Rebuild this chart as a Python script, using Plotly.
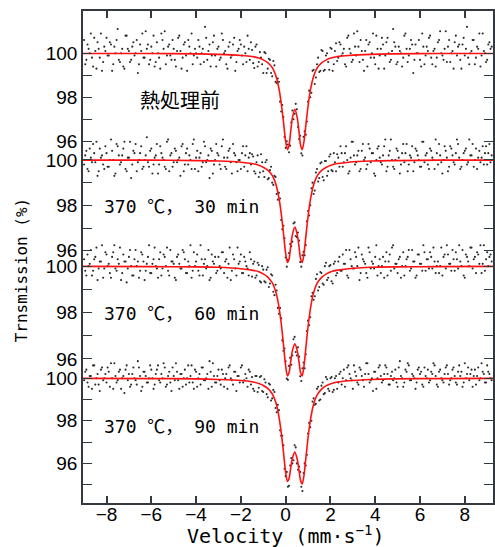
import plotly.graph_objects as go

# ---------------- data ----------------
VELOCITY = [
    -9.0, -8.9, -8.8, -8.7, -8.6, -8.5, -8.4, -8.3, -8.2, -8.1,
    -8.0, -7.9, -7.8, -7.7, -7.6, -7.5, -7.4, -7.3, -7.2, -7.1,
    -7.0, -6.9, -6.8, -6.7, -6.6, -6.5, -6.4, -6.3, -6.2, -6.1,
    -6.0, -5.9, -5.8, -5.7, -5.6, -5.5, -5.4, -5.3, -5.2, -5.1,
    -5.0, -4.9, -4.8, -4.7, -4.6, -4.5, -4.4, -4.3, -4.2, -4.1,
    -4.0, -3.9, -3.8, -3.7, -3.6, -3.5, -3.4, -3.3, -3.2, -3.1,
    -3.0, -2.9, -2.8, -2.7, -2.6, -2.5, -2.4, -2.3, -2.2, -2.1,
    -2.0, -1.9, -1.8, -1.7, -1.6, -1.5, -1.4, -1.3, -1.2, -1.1,
    -1.0, -0.9, -0.8, -0.7, -0.6, -0.5, -0.4, -0.3, -0.2, -0.1,
    0.0, 0.1, 0.2, 0.3, 0.4, 0.5, 0.6, 0.7, 0.8, 0.9,
    1.0, 1.1, 1.2, 1.3, 1.4, 1.5, 1.6, 1.7, 1.8, 1.9,
    2.0, 2.1, 2.2, 2.3, 2.4, 2.5, 2.6, 2.7, 2.8, 2.9,
    3.0, 3.1, 3.2, 3.3, 3.4, 3.5, 3.6, 3.7, 3.8, 3.9,
    4.0, 4.1, 4.2, 4.3, 4.4, 4.5, 4.6, 4.7, 4.8, 4.9,
    5.0, 5.1, 5.2, 5.3, 5.4, 5.5, 5.6, 5.7, 5.8, 5.9,
    6.0, 6.1, 6.2, 6.3, 6.4, 6.5, 6.6, 6.7, 6.8, 6.9,
    7.0, 7.1, 7.2, 7.3, 7.4, 7.5, 7.6, 7.7, 7.8, 7.9,
    8.0, 8.1, 8.2, 8.3, 8.4, 8.5, 8.6, 8.7, 8.8, 8.9,
    9.0, 9.1, 9.2,
]
VELOCITY_B = [
    -8.95, -8.85, -8.75, -8.65, -8.55, -8.45, -8.35, -8.25, -8.15, -8.05,
    -7.95, -7.85, -7.75, -7.65, -7.55, -7.45, -7.35, -7.25, -7.15, -7.05,
    -6.95, -6.85, -6.75, -6.65, -6.55, -6.45, -6.35, -6.25, -6.15, -6.05,
    -5.95, -5.85, -5.75, -5.65, -5.55, -5.45, -5.35, -5.25, -5.15, -5.05,
    -4.95, -4.85, -4.75, -4.65, -4.55, -4.45, -4.35, -4.25, -4.15, -4.05,
    -3.95, -3.85, -3.75, -3.65, -3.55, -3.45, -3.35, -3.25, -3.15, -3.05,
    -2.95, -2.85, -2.75, -2.65, -2.55, -2.45, -2.35, -2.25, -2.15, -2.05,
    -1.95, -1.85, -1.75, -1.65, -1.55, -1.45, -1.35, -1.25, -1.15, -1.05,
    -0.95, -0.85, -0.75, -0.65, -0.55, -0.45, -0.35, -0.25, -0.15, -0.05,
    0.05, 0.15, 0.25, 0.35, 0.45, 0.55, 0.65, 0.75, 0.85, 0.95,
    1.05, 1.15, 1.25, 1.35, 1.45, 1.55, 1.65, 1.75, 1.85, 1.95,
    2.05, 2.15, 2.25, 2.35, 2.45, 2.55, 2.65, 2.75, 2.85, 2.95,
    3.05, 3.15, 3.25, 3.35, 3.45, 3.55, 3.65, 3.75, 3.85, 3.95,
    4.05, 4.15, 4.25, 4.35, 4.45, 4.55, 4.65, 4.75, 4.85, 4.95,
    5.05, 5.15, 5.25, 5.35, 5.45, 5.55, 5.65, 5.75, 5.85, 5.95,
    6.05, 6.15, 6.25, 6.35, 6.45, 6.55, 6.65, 6.75, 6.85, 6.95,
    7.05, 7.15, 7.25, 7.35, 7.45, 7.55, 7.65, 7.75, 7.85, 7.95,
    8.05, 8.15, 8.25, 8.35, 8.45, 8.55, 8.65, 8.75, 8.85, 8.95,
    9.05, 9.15,
]

OBS_1 = [
    100.6, 99.7, 100.2, 100.9, 99.4, 100.1, 100.5, 99.8, 99.2, 100.3,
    100.7, 99.9, 100.4, 99.5, 100.0, 101.1, 99.6, 100.2, 99.3, 100.8,
    100.1, 99.7, 100.5, 100.0, 99.1, 100.4, 100.9, 99.8, 100.2, 99.5,
    100.3, 100.8, 99.6, 100.0, 99.3, 100.6, 101.0, 99.9, 100.4, 99.7,
    100.2, 99.4, 100.7, 100.1, 99.8, 100.5, 99.2, 100.3, 100.9, 99.9,
    100.0, 100.6, 99.5, 100.2, 101.2, 99.7, 100.4, 99.9, 100.8, 99.4,
    100.3, 99.8, 100.6, 100.1, 99.3, 100.5, 99.9, 100.7, 99.6, 100.2,
    100.4, 99.5, 100.0, 100.8, 99.7,
    100.15, 99.33, 100.4, 99.6, 99.8, 99.1, 100.0, 99.3, 99.7, 98.95,
    99.45, 98.65, 98.7, 97.35, 97.1, 95.7, 95.85, 95.8, 97.4, 97.25,
    97.45, 96.1, 95.45, 96.2, 96.3, 97.8, 98.0, 99.2, 98.6, 99.5,
    99.15, 100.15, 99.2, 99.9, 99.6, 100.25, 99.2, 100.1, 99.65,
    100.5, 99.9, 100.2, 99.4, 100.8, 100.0, 99.7, 100.3, 101.0, 99.6,
    100.1, 99.2, 100.6, 100.4, 99.8, 100.9, 99.5, 100.2, 99.9, 100.7,
    99.3, 100.5, 100.0, 99.7, 101.1, 100.3, 99.6, 100.1, 99.4, 100.8,
    100.2, 99.9, 100.6, 99.1, 100.4, 100.0, 99.7, 100.9, 99.5, 100.3,
    100.7, 99.8, 100.1, 99.4, 100.5, 101.0, 99.9, 100.2, 99.6, 100.6,
    100.0, 99.3, 100.8, 100.3, 99.7, 100.4, 99.9, 101.2, 99.5, 100.1,
    100.6, 99.8, 100.2, 99.4, 100.9, 100.0, 99.7, 100.5, 100.3,
]
OBS_1B = [
    99.5, 100.4, 100.0, 99.8, 100.7, 99.3, 100.2, 100.9, 99.6, 100.1,
    99.9, 100.5, 99.2, 100.3, 100.6, 99.7, 100.0, 99.4, 100.8, 100.2,
    99.6, 100.3, 99.9, 100.6, 99.5, 100.1, 99.8, 101.0, 100.4, 99.7,
    100.0, 99.4, 100.5, 99.8, 100.9, 100.2, 99.5, 100.3, 99.9, 100.6,
    99.7, 100.1, 100.8, 99.3, 100.4, 99.9, 100.6, 100.0, 99.5, 100.2,
    99.8, 100.3, 100.0, 99.6, 100.7, 100.1, 99.4, 100.5, 99.9, 100.2,
    99.7, 100.9, 100.0, 99.5, 100.3, 99.8, 100.4, 99.2, 100.1, 100.6,
    99.9, 100.3, 99.6, 100.2, 100.5,
    99.55, 100.3, 99.4, 100.05, 99.5, 100.05, 99.1, 99.75, 99.1, 99.65,
    98.7, 98.85, 97.8, 97.65, 96.2, 96.0, 95.5, 96.85, 97.0, 97.7,
    96.65, 96.25, 95.35, 96.45, 96.9, 98.3, 98.2, 99.25, 98.9, 99.8,
    99.2, 100.1, 99.25, 100.0, 99.25, 100.2, 99.5, 100.45,
    99.8, 100.4, 100.0, 99.5, 100.7, 100.2, 99.6, 100.9, 99.9, 100.3,
    100.6, 99.7, 100.1, 99.4, 100.5, 100.0, 99.8, 100.8, 99.3, 100.2,
    100.4, 99.9, 100.7, 99.6, 100.1, 100.5, 99.5, 100.3, 100.0, 99.8,
    100.9, 99.6, 100.2, 100.4, 99.7, 100.0, 100.6, 99.4, 100.3, 99.9,
    100.1, 100.8, 99.5, 100.2, 99.8, 100.6, 100.0, 99.7, 101.0, 100.3,
    99.6, 100.1, 100.5, 99.9, 100.4, 99.3, 100.7, 100.2, 99.8, 100.0,
    100.6, 99.5, 100.3, 100.9, 99.9, 100.1, 99.6, 100.4, 100.2,
]

OBS_2 = [
    99.8, 100.4, 99.5, 100.1, 100.7, 99.9, 99.3, 100.5, 100.2, 99.6,
    100.3, 99.7, 100.9, 100.0, 99.4, 100.6, 99.8, 100.2, 100.8, 99.5,
    100.1, 99.2, 100.4, 100.7, 99.9, 100.3, 99.6, 100.0, 101.0, 99.7,
    100.5, 99.8, 100.2, 99.4, 100.6, 100.1, 99.7, 100.8, 99.5, 100.3,
    99.9, 100.4, 100.0, 99.3, 100.7, 99.8, 100.5, 100.2, 99.6, 100.9,
    100.1, 99.5, 100.3, 99.9, 100.6, 100.0, 99.2, 100.4, 99.8, 100.7,
    100.2, 99.6, 100.9, 99.7, 100.1, 100.5, 99.4, 100.3, 99.9, 100.0,
    99.6, 100.6, 100.2, 99.5, 100.3,
    100.25, 99.5, 99.9, 99.25, 100.25, 99.5, 99.9, 99.15, 99.55, 99.0,
    99.3, 98.5, 98.55, 97.35, 97.1, 95.7, 95.6, 96.3, 96.4, 97.25,
    96.6, 96.45, 95.3, 95.95, 96.25, 97.75, 98.0, 99.0, 98.65, 99.6,
    99.2, 99.9, 99.1, 99.95, 99.5, 100.25, 99.5, 99.9, 100.25,
    99.7, 100.3, 99.9, 100.6, 99.4, 100.1, 100.8, 99.8, 100.2, 99.5,
    100.4, 100.0, 99.6, 100.7, 99.9, 100.3, 99.3, 100.5, 100.1, 99.8,
    100.6, 99.5, 100.2, 100.9, 99.7, 100.0, 100.4, 99.4, 100.3, 99.9,
    100.7, 99.8, 100.1, 99.5, 100.5, 100.2, 99.7, 100.8, 99.9, 100.3,
    99.6, 100.4, 100.0, 100.9, 99.8, 100.2, 99.4, 100.6, 100.1, 99.7,
    100.5, 99.9, 100.3, 100.7, 99.6, 100.0, 100.4, 99.8, 100.9, 100.2,
    99.7, 100.5, 100.1, 99.9, 100.6, 100.3, 99.8, 100.7, 100.2,
]
OBS_2B = [
    100.2, 99.6, 100.5, 99.9, 100.3, 100.8, 99.5, 100.1, 99.8, 100.6,
    99.7, 100.0, 100.4, 99.3, 100.7, 100.2, 99.9, 100.5, 99.6, 100.1,
    100.8, 99.8, 100.3, 99.5, 100.0, 100.6, 99.7, 100.2, 99.9, 100.4,
    99.4, 100.1, 100.7, 99.8, 100.3, 100.0, 99.6, 100.9, 100.2, 99.7,
    100.5, 99.9, 100.1, 100.6, 99.5, 100.3, 99.8, 100.0, 100.7, 99.6,
    100.4, 100.1, 99.7, 100.8, 99.9, 100.2, 100.5, 99.4, 100.0, 100.3,
    99.8, 100.6, 100.1, 99.6, 100.4, 99.9, 100.7, 100.2, 99.5, 100.0,
    100.3, 99.7, 100.6, 100.1, 99.8,
    100.15, 99.4, 100.2, 99.45, 99.9, 99.25, 100.0, 99.2, 99.7, 98.9,
    99.25, 98.25, 98.3, 96.95, 96.55, 95.3, 95.9, 96.2, 97.2, 96.65,
    96.8, 95.5, 95.8, 95.8, 97.3, 97.55, 98.75, 98.5, 99.45, 99.05,
    99.85, 99.25, 99.95, 99.3, 100.15, 99.55, 100.3, 99.5,
    100.1, 100.6, 99.7, 100.3, 100.0, 99.5, 100.8, 100.2, 99.9, 100.4,
    99.6, 100.7, 100.1, 99.8, 100.5, 100.3, 99.4, 100.0, 100.6, 99.9,
    100.2, 100.9, 99.7, 100.4, 100.0, 99.6, 100.5, 100.1, 99.8, 100.7,
    100.3, 99.5, 100.2, 100.6, 99.9, 100.4, 100.0, 99.7, 100.8, 100.2,
    99.8, 100.5, 100.1, 99.6, 100.3, 100.7, 99.9, 100.0, 100.4, 99.5,
    100.6, 100.2, 99.8, 100.9, 100.1, 99.7, 100.3, 100.5, 99.9, 100.2,
    100.7, 100.0, 99.6, 100.4, 100.1, 99.8, 100.6, 100.3, 99.9,
]

OBS_3 = [
    100.3, 99.6, 100.0, 100.7, 99.8, 100.4, 99.4, 100.2, 100.9, 99.9,
    100.5, 100.1, 99.5, 100.6, 99.9, 100.3, 100.8, 99.7, 100.2, 99.3,
    100.4, 100.0, 99.6, 100.7, 100.2, 99.8, 100.5, 99.4, 100.1, 100.9,
    99.7, 100.3, 100.0, 99.5, 100.6, 99.9, 100.4, 100.8, 99.6, 100.2,
    100.1, 99.4, 100.5, 99.9, 100.7, 100.3, 99.7, 100.0, 99.5, 100.6,
    100.2, 99.8, 100.9, 99.6, 100.3, 100.0, 99.4, 100.5, 100.1, 99.7,
    100.4, 99.9, 100.6, 100.2, 99.5, 100.8, 99.8, 100.3, 99.6, 100.1,
    100.5, 99.7, 100.2, 99.9, 100.6,
    99.55, 100.2, 99.6, 100.05, 99.3, 99.85, 99.3, 99.95, 99.25, 99.6,
    98.75, 98.95, 97.95, 97.75, 96.35, 95.9, 95.1, 96.05, 96.15, 96.95,
    96.15, 96.1, 95.05, 95.85, 96.2, 97.65, 97.8, 98.85, 98.7, 99.65,
    99.1, 99.7, 99.2, 100.15, 99.5, 100.05, 99.25, 100.2, 99.7,
    100.4, 99.8, 100.1, 100.7, 99.5, 100.3, 99.9, 100.6, 100.0, 99.4,
    100.5, 100.2, 99.7, 100.8, 99.9, 100.1, 100.4, 99.6, 100.3, 100.0,
    99.5, 100.6, 100.2, 99.8, 100.9, 100.1, 99.7, 100.4, 100.0, 99.6,
    100.3, 100.7, 99.9, 100.2, 99.5, 100.5, 100.1, 99.8, 100.6, 100.3,
    99.9, 100.4, 100.8, 99.7, 100.2, 100.0, 99.6, 100.5, 100.9, 100.1,
    99.8, 100.3, 100.6, 99.9, 100.2, 100.7, 99.5, 100.4, 100.0, 100.8,
    100.3, 99.7, 100.5, 100.9, 100.1, 99.8, 100.6, 100.4, 100.2,
]
OBS_3B = [
    99.8, 100.5, 100.1, 99.6, 100.3, 100.8, 99.9, 100.2, 99.5, 100.6,
    100.0, 99.7, 100.4, 100.9, 99.8, 100.1, 99.4, 100.5, 100.2, 99.9,
    100.7, 99.6, 100.3, 100.0, 99.5, 100.6, 100.2, 99.8, 100.4, 99.7,
    100.1, 100.8, 99.9, 100.3, 99.6, 100.5, 100.0, 99.8, 100.7, 100.2,
    99.5, 100.4, 100.1, 99.9, 100.6, 99.7, 100.2, 100.9, 99.8, 100.0,
    100.5, 99.6, 100.3, 100.1, 99.9, 100.7, 99.5, 100.2, 100.4, 99.8,
    100.0, 100.6, 99.7, 100.3, 100.1, 99.4, 100.5, 99.9, 100.8, 100.2,
    99.7, 100.4, 100.0, 99.6, 100.3,
    100.1, 99.5, 100.15, 99.35, 100.0, 99.35, 99.85, 99.1, 99.65, 98.9,
    99.2, 98.2, 98.2, 96.8, 96.45, 95.15, 95.7, 95.75, 96.85, 96.3,
    96.5, 95.25, 95.6, 95.6, 97.2, 97.45, 98.7, 98.55, 99.45, 98.95,
    99.75, 99.25, 100.0, 99.4, 100.0, 99.35, 100.1, 99.6,
    100.2, 99.8, 100.5, 100.1, 99.6, 100.7, 100.0, 99.9, 100.4, 100.8,
    99.7, 100.3, 100.1, 99.5, 100.6, 100.2, 99.9, 100.9, 100.0, 99.7,
    100.4, 100.2, 99.6, 100.5, 100.8, 99.9, 100.1, 100.3, 99.5, 100.6,
    100.0, 100.4, 99.8, 100.7, 100.2, 99.6, 100.5, 100.1, 100.9, 99.8,
    100.3, 100.6, 99.9, 100.2, 100.0, 99.7, 100.8, 100.4, 99.9, 100.5,
    100.1, 100.7, 99.8, 100.3, 100.9, 100.0, 99.6, 100.5, 100.2, 100.8,
    99.9, 100.4, 100.6, 100.1, 99.7, 100.9, 100.3, 100.0, 100.5,
]

OBS_4 = [
    99.9, 100.4, 99.6, 100.1, 100.6, 99.7, 100.2, 99.4, 100.5, 100.0,
    99.8, 100.3, 100.7, 99.5, 100.1, 99.9, 100.4, 100.0, 99.3, 100.6,
    100.2, 99.7, 100.5, 99.9, 100.8, 100.1, 99.6, 100.3, 99.8, 100.0,
    100.4, 99.5, 100.2, 100.6, 99.8, 100.0, 100.5, 99.7, 100.3, 99.4,
    100.1, 100.7, 99.9, 100.2, 99.6, 100.4, 100.0, 99.8, 100.6, 99.5,
    100.3, 100.0, 99.7, 100.5, 99.9, 100.2, 100.8, 99.6, 100.1, 99.8,
    100.4, 99.7, 100.2, 100.0, 99.5, 100.6, 99.9, 100.3, 99.4, 100.1,
    100.5, 99.8, 100.2, 99.6, 100.3,
    100.05, 99.4, 100.1, 99.55, 100.1, 99.35, 99.8, 99.1, 99.7, 99.05,
    99.35, 98.4, 98.5, 97.3, 96.85, 95.4, 94.9, 95.9, 96.0, 96.85,
    96.0, 95.85, 94.9, 95.55, 95.9, 97.4, 97.7, 98.9, 98.75, 99.5,
    98.95, 99.65, 99.25, 100.05, 99.5, 100.0, 99.35, 100.0, 99.5,
    100.2, 99.7, 100.4, 99.9, 100.6, 100.0, 99.5, 100.3, 99.8, 100.5,
    100.1, 99.6, 100.7, 100.2, 99.9, 99.4, 100.3, 100.0, 100.6, 99.8,
    100.2, 100.5, 99.7, 100.1, 99.9, 100.4, 99.6, 100.8, 100.0, 99.8,
    100.3, 100.6, 99.9, 100.1, 99.5, 100.4, 100.2, 99.7, 100.5, 100.0,
    99.8, 100.3, 100.7, 100.1, 99.6, 100.4, 99.9, 100.2, 100.6, 99.7,
    100.0, 100.5, 99.8, 100.3, 100.1, 99.6, 100.7, 100.2, 99.9, 100.4,
    100.1, 99.7, 100.5, 100.0, 100.3, 99.8, 100.6, 100.2, 99.9,
]
OBS_4B = [
    100.3, 99.8, 100.1, 99.5, 100.6, 100.0, 99.7, 100.4, 99.9, 100.2,
    100.5, 99.6, 100.0, 100.7, 99.8, 100.3, 99.5, 100.1, 100.4, 99.9,
    99.6, 100.2, 100.0, 99.7, 100.5, 99.4, 100.3, 100.1, 99.8, 100.6,
    100.0, 99.7, 100.4, 99.9, 100.2, 100.7, 99.6, 100.1, 99.8, 100.5,
    99.9, 100.3, 99.5, 100.2, 100.0, 99.7, 100.6, 100.1, 99.8, 100.4,
    99.6, 100.2, 100.5, 99.9, 100.0, 99.5, 100.3, 100.7, 99.8, 100.1,
    99.9, 100.4, 99.6, 100.2, 100.5, 100.0, 99.7, 100.3, 100.1, 99.8,
    100.6, 99.9, 100.0, 100.4, 99.7,
    99.5, 100.1, 99.35, 100.05, 99.4, 99.95, 99.25, 99.75, 98.95, 99.45,
    98.6, 98.75, 97.55, 97.3, 95.75, 95.6, 94.95, 96.25, 96.15, 96.75,
    95.7, 95.6, 94.7, 96.0, 96.4, 97.9, 98.0, 99.05, 98.8, 99.6,
    99.0, 99.8, 99.3, 99.95, 99.4, 100.05, 99.45, 100.1,
    99.8, 100.3, 100.0, 99.6, 100.5, 100.2, 99.9, 100.6, 100.1, 99.7,
    100.4, 99.9, 100.2, 100.7, 99.8, 100.0, 100.3, 99.5, 100.5, 100.1,
    99.9, 100.6, 100.2, 99.7, 100.3, 100.0, 99.8, 100.5, 100.1, 99.6,
    100.4, 100.7, 99.9, 100.2, 100.0, 99.8, 100.5, 100.3, 99.6, 100.1,
    100.4, 99.9, 100.2, 100.6, 99.7, 100.3, 100.0, 99.8, 100.5, 100.2,
    99.9, 100.4, 100.1, 99.7, 100.6, 100.3, 99.8, 100.0, 100.5, 100.2,
    99.6, 100.4, 100.1, 99.9, 100.7, 100.2, 99.8, 100.3, 100.0,
]

FIT_VELOCITY = [
    -9.2, -6.0, -4.0, -3.0, -2.0, -1.5, -1.2, -1.0, -0.8, -0.6,
    -0.5, -0.4, -0.3, -0.2, -0.1, 0.0, 0.08, 0.15, 0.22, 0.3,
    0.41, 0.52, 0.6, 0.67, 0.74, 0.82, 0.92, 1.02, 1.12, 1.22,
    1.32, 1.42, 1.62, 1.82, 2.02, 2.32, 2.82, 3.82, 4.82, 6.82, 9.3,
]
FIT_1 = [
    99.99, 99.99, 99.97, 99.95, 99.90, 99.85, 99.78, 99.70, 99.57, 99.35,
    99.15, 98.85, 98.40, 97.75, 96.90, 96.00, 95.62, 95.80, 96.40, 97.05,
    97.45, 97.05, 96.40, 95.80, 95.62, 96.00, 96.90, 97.75, 98.40, 98.85,
    99.15, 99.35, 99.57, 99.70, 99.78, 99.85, 99.90, 99.95, 99.97, 99.99, 99.99,
]
FIT_2 = [
    99.99, 99.99, 99.97, 99.95, 99.90, 99.84, 99.77, 99.68, 99.55, 99.32,
    99.11, 98.80, 98.33, 97.66, 96.80, 95.88, 95.48, 95.62, 96.15, 96.70,
    97.04, 96.70, 96.15, 95.62, 95.48, 95.88, 96.80, 97.66, 98.33, 98.80,
    99.11, 99.32, 99.55, 99.68, 99.77, 99.84, 99.90, 99.95, 99.97, 99.99, 99.99,
]
FIT_3 = [
    99.99, 99.98, 99.97, 99.95, 99.89, 99.83, 99.76, 99.67, 99.53, 99.29,
    99.07, 98.75, 98.25, 97.55, 96.65, 95.70, 95.27, 95.40, 95.85, 96.35,
    96.65, 96.35, 95.85, 95.40, 95.27, 95.70, 96.65, 97.55, 98.25, 98.75,
    99.07, 99.29, 99.53, 99.67, 99.76, 99.83, 99.89, 99.95, 99.97, 99.98, 99.99,
]
FIT_4 = [
    99.99, 99.98, 99.97, 99.94, 99.89, 99.83, 99.75, 99.66, 99.52, 99.27,
    99.05, 98.72, 98.20, 97.48, 96.55, 95.58, 95.15, 95.28, 95.74, 96.23,
    96.53, 96.18, 95.65, 95.18, 95.03, 95.45, 96.42, 97.38, 98.12, 98.66,
    99.01, 99.24, 99.50, 99.65, 99.74, 99.82, 99.88, 99.94, 99.97, 99.98, 99.99,
]

OBS = [OBS_1 + OBS_1B, OBS_2 + OBS_2B, OBS_3 + OBS_3B, OBS_4 + OBS_4B]
ALL_VELOCITY = VELOCITY + VELOCITY_B
FITS = [FIT_1, FIT_2, FIT_3, FIT_4]

CJK = "font-family:'Noto Sans CJK JP'"
PANEL_LABELS = [
    "熱処理前",
    f"370 <span style=\"{CJK}\">℃，</span> 30 min",
    f"370 <span style=\"{CJK}\">℃，</span> 60 min",
    f"370 <span style=\"{CJK}\">℃，</span> 90 min",
]
Y_TICKS = [
    [96, 97, 98, 99, 100],
    [96, 97, 98, 99, 100],
    [96, 97, 98, 99, 100],
    [95, 96, 97, 98, 99, 100],
]
X_TICKS = [-8, -6, -4, -2, 0, 2, 4, 6, 8]
X_TITLE = "Velocity (mm·s<sup>−1</sup>)"
Y_TITLE = "Trnsmission (%)"

# ---------------- layout helpers (styles) ----------------
Y_RANGES = [[79.56, 101.92], [84.89, 106.56], [89.79, 111.0], [94.14, 117.24]]
LABEL_POS = [(-4.74, 97.88, "center"), (-8.21, 98.02, "left"),
             (-8.21, 98.04, "left"), (-8.21, 97.81, "left")]

AX_COLOR = "#34383f"
TICK_FONT = dict(family="Liberation Sans, Arial, sans-serif", size=19, color="black")
MONO = "DejaVu Sans Mono, Noto Sans CJK JP, monospace"

fig = go.Figure()
for k in range(4):
    yname = "y" if k == 0 else f"y{k + 1}"
    fig.add_trace(go.Scatter(
        x=ALL_VELOCITY, y=OBS[k], mode="markers", yaxis=yname,
        marker=dict(size=2.1, color="#2b2b2b", line=dict(width=0)),
        showlegend=False, hoverinfo="skip"))
for k in range(4):
    yname = "y" if k == 0 else f"y{k + 1}"
    fig.add_trace(go.Scatter(
        x=FIT_VELOCITY, y=FITS[k], mode="lines", yaxis=yname,
        line=dict(color="#ff1111", width=1.6, shape="spline", smoothing=0.8),
        showlegend=False, hoverinfo="skip"))

def yaxis_style(k):
    ticks = Y_TICKS[k]
    d = dict(
        range=Y_RANGES[k], tickmode="array", tickvals=ticks,
        ticktext=[str(t) if t % 2 == 0 else "" for t in ticks],
        ticks="inside", ticklen=9, tickwidth=1.3, tickcolor=AX_COLOR,
        showline=True, linecolor=AX_COLOR, linewidth=1.5, mirror="ticks",
        showgrid=False, zeroline=False, tickfont=TICK_FONT,
        fixedrange=True,
    )
    if k > 0:
        d.update(overlaying="y", anchor="x", side="left")
    return d

layout = dict(
    width=495, height=547,
    margin=dict(l=83, r=0, t=11, b=44),
    paper_bgcolor="white", plot_bgcolor="white",
    xaxis=dict(
        range=[-9.05, 9.26], tickmode="array", tickvals=X_TICKS,
        ticks="inside", ticklen=7, tickwidth=1.5, tickcolor=AX_COLOR,
        showline=True, linecolor=AX_COLOR, linewidth=2.2, mirror="ticks",
        showgrid=False, zeroline=False, tickfont=TICK_FONT,
        ticklabelstandoff=-7,
    ),
)
for k in range(4):
    key = "yaxis" if k == 0 else f"yaxis{k + 1}"
    layout[key] = yaxis_style(k)

annotations = [
    dict(text=Y_TITLE, xref="paper", yref="paper", x=-0.148, y=0.4736,
         textangle=-90, showarrow=False, xanchor="center", yanchor="middle",
         font=dict(family=MONO, size=16, color="black")),
    dict(text=X_TITLE, xref="paper", yref="paper", x=0.494, y=-0.0645,
         showarrow=False, xanchor="center", yanchor="middle",
         font=dict(family=MONO, size=20, color="black")),
]
for k in range(4):
    xv, yv, anc = LABEL_POS[k]
    yref = "y" if k == 0 else f"y{k + 1}"
    fam = "Noto Sans CJK JP" if k == 0 else MONO
    size = 20 if k == 0 else 18
    annotations.append(dict(text=PANEL_LABELS[k], xref="x", yref=yref, x=xv, y=yv,
                            showarrow=False, xanchor=anc, yanchor="middle",
                            font=dict(family=fam, size=size, color="black")))
layout["annotations"] = annotations
fig.update_layout(**layout)

fig.write_html("out.html", config={"displayModeBar": False},
               post_script="document.body.style.margin='0px';")
